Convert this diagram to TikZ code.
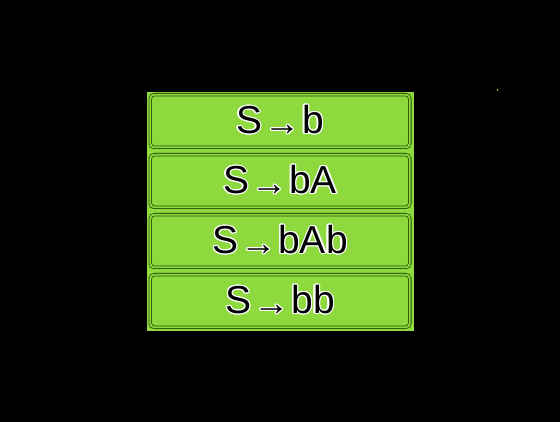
\documentclass[tikz,border=0pt]{standalone}
\usepackage{fontspec}
\setmainfont{Liberation Sans}
\usepackage[copies]{contour}
\contourlength{1.2pt}
\contournumber{16}
\definecolor{boxgreen}{RGB}{141,217,62}
\definecolor{dkgreen}{RGB}{40,80,10}
\newcommand{\arr}{\raisebox{-2pt}{\fontsize{36}{36}\selectfont →}}
\newcommand{\rulet}[1]{\contour{white}{#1}}
\tikzset{
  rulebox/.style={draw=dkgreen, line width=0.8pt, double=boxgreen, double distance=1.8pt,
    rounded corners=4pt, fill=boxgreen, minimum width=259.6pt, minimum height=52.6pt,
    inner sep=0pt, outer sep=0pt, font=\fontsize{39}{39}\selectfont, text=black}
}
\begin{document}
\begin{tikzpicture}[x=1pt,y=-1pt]
\useasboundingbox (0,0) rectangle (560,422);
\fill[black] (0,0) rectangle (560,422);
\fill[boxgreen] (146.5,92) rectangle (414,331);
\fill[boxgreen] (496.5,89.5) rectangle (498,91);
\node[rulebox] (r1) at (280,121) {\rulet{S\kern2pt\arr\kern2pt b}};
\node[rulebox] (r2) at (280,181) {\rulet{S\kern2pt\arr\kern2pt bA}};
\node[rulebox] (r3) at (280,241) {\rulet{S\kern2pt\arr\kern2pt bAb}};
\node[rulebox] (r4) at (280,301) {\rulet{S\kern2pt\arr\kern2pt bb}};
\end{tikzpicture}
\end{document}
